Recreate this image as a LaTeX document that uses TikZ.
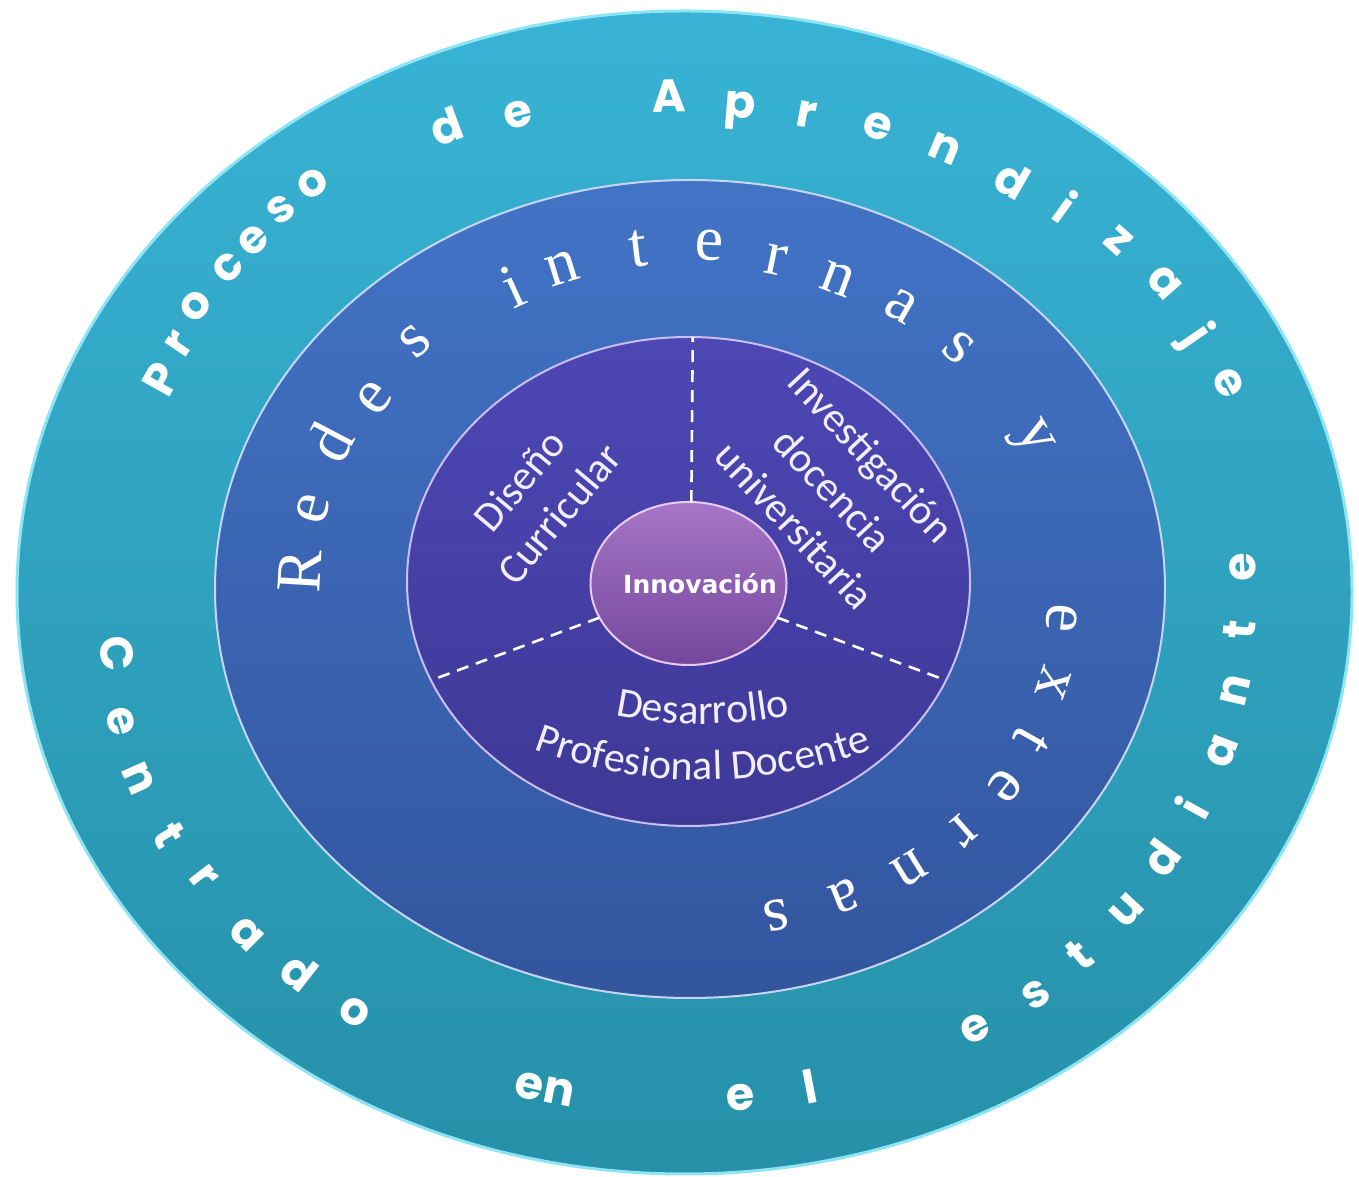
\documentclass[tikz,border=0pt]{standalone}
\usepackage{fontspec}
\usetikzlibrary{shapes.geometric,decorations.text}
\newfontfamily\ringfont{Poppins}
\newfontfamily\redesfont{Liberation Serif}
\newfontfamily\labelfont{Carlito}
\newfontfamily\innovfont{DejaVu Sans}
\definecolor{outtop}{HTML}{38B3D5}
\definecolor{outbot}{HTML}{2690A8}
\definecolor{outrim}{HTML}{8CE4F5}
\definecolor{midtop}{HTML}{4274C6}
\definecolor{midbot}{HTML}{33559E}
\definecolor{midrim}{HTML}{C7D6F5}
\definecolor{intop}{HTML}{4D47B5}
\definecolor{inbot}{HTML}{3E3896}
\definecolor{inrim}{HTML}{CBBEF3}
\definecolor{invtop}{HTML}{A675C6}
\definecolor{invbot}{HTML}{74479C}
\definecolor{invrim}{HTML}{E8CCF5}
\definecolor{labelwhite}{HTML}{F2EEFF}
\tikzset{
  disc/.style={ellipse,inner sep=0pt,outer sep=0pt},
  ringletter/.style={text=white,inner sep=0pt,font=\ringfont\bfseries\fontsize{23}{26}\selectfont},
  redesletter/.style={text=white,inner sep=0pt,font=\redesfont\fontsize{32}{36}\selectfont},
  sector/.style={text=labelwhite,inner sep=0pt,align=center,font=\labelfont\fontsize{21}{26}\selectfont},
  divider/.style={draw=white,line width=1.3pt,dash pattern=on 6pt off 4pt},
}
\begin{document}
\begin{tikzpicture}[x=0.5pt,y=0.5pt]
\useasboundingbox (0,0) rectangle (1359,1177);
\node[disc,top color=outtop,bottom color=outbot,draw=outrim,line width=1.5pt,minimum width=667.5pt,minimum height=581.5pt] (outer) at (684.5,584.5) {};
\node[disc,top color=midtop,bottom color=midbot,draw=midrim,line width=1pt,minimum width=475pt,minimum height=409pt] (middle) at (690,588) {};
\node[disc,top color=intop,bottom color=inbot,draw=inrim,line width=1pt,minimum width=281.5pt,minimum height=244.5pt] (inner) at (688.5,595.5) {};
\node[disc,top color=invtop,bottom color=invbot,draw=invrim,line width=1pt,minimum width=98pt,minimum height=81.5pt] (innov) at (688.5,593.5) {};
\draw[divider] (innov.88) -- (inner.89);
\draw[divider] (innov.201) -- (inner.201);
\draw[divider] (innov.339) -- (inner.339);
\node[text=white,font=\innovfont\bfseries\fontsize{12.5}{14}\selectfont] (innovlabel) at (700,593) {Innovación};
\node[sector,rotate=50] (diseno) at (539,680) {Diseño\\Curricular};
\node[sector,rotate=-47] (investigacion) at (833,687) {Investigación\\docencia\\universitaria};
\path[decorate,decoration={text along path,text align=center,text color=labelwhite,
  text={|\labelfont\fontsize{21}{26}\selectfont|Desarrollo}}] (703,877) ++(240:424) arc[start angle=240,end angle=300,radius=424];
\path[decorate,decoration={text along path,text align=center,text color=labelwhite,
  text={|\labelfont\fontsize{21}{26}\selectfont|Profesional Docente}}] (703,877) ++(225:480) arc[start angle=225,end angle=315,radius=480];
\foreach \ch/\x/\y [count=\i] in {P/161/379,r/179/344,o/196/306,c/228/268,e/254/241,s/281/210,o/313/184,
  d/446/126,e/518/115,A/669/96,p/740/111,r/807/115,e/878/126,n/945/149,d/1012/180,i/1066/207,
  z/1119/241,a/1164/283,j/1195/337,e/1228/383}{
  \pgfmathsetmacro\rot{atan2((592-\y)*1.377,\x-685)-90}
  \node[ringletter,rotate=\rot] (proceso\i) at (\x,1177-\y) {\ch};
}
\foreach \ch/\x/\y [count=\i] in {C/117/654,e/121/721,n/139/778,t/169/835,r/204/877,a/247/934,d/299/972,o/355/1012,
  e/529/1086,n/559/1092,e/741/1098,l/810/1086,e/975/1029,s/1036/995,t/1079/955,u/1127/911,
  d/1161/858,i/1192/808,a/1222/751,n/1235/690,t/1239/630,e/1243/567}{
  \pgfmathsetmacro\rot{atan2((592-\y)*1.296,\x-685)+90}
  \node[ringletter,rotate=\rot] (centrado\i) at (\x,1177-\y) {\ch};
}
\foreach \ch/\x/\y [count=\i] in {R/300/571,e/313/509,d/330/442,e/375/398,s/415/341,
  i/513/287,n/562/268,t/638/249,e/709/245,r/776/260,n/838/279,a/901/306,s/959/348,y/1030/440,
  e/1062/618,x/1053/683,t/1031/740,e/1005/786,r/962/831,n/910/869,a/845/896,s/776/915}{
  \pgfmathsetmacro\rot{atan2((589-\y)*1.282,\x-690)-90}
  \node[redesletter,rotate=\rot] (redes\i) at (\x,1177-\y) {\ch};
}
\end{tikzpicture}
\end{document}
